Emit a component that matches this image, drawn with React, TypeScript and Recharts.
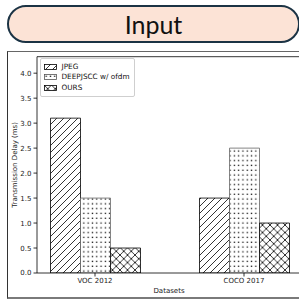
import React from "react";
import { BarChart, Bar, XAxis, YAxis, Legend, ReferenceLine } from "recharts";

const categories = ["VOC 2012", "COCO 2017"];
const jpegDelay = [3.1, 1.5];
const deepjsccDelay = [1.5, 2.5];
const oursDelay = [0.5, 1.0];
const yTicks = [0, 0.5, 1.0, 1.5, 2.0, 2.5, 3.0, 3.5, 4.0];
const seriesNames = ["JPEG", "DEEPJSCC w/ ofdm", "OURS"];
const seriesKeys = ["jpeg", "deep", "ours"];
const seriesPatterns = ["diag", "dots", "cross"];
const Y_MAX = 4.33;

const data = categories.map((c, i) => ({
  name: c,
  jpeg: jpegDelay[i],
  deep: deepjsccDelay[i],
  ours: oursDelay[i],
}));

const FONT = "'DejaVu Sans', sans-serif";

const PatternDefs = ({ p }: { p: string }) => (
  <defs>
    <pattern id={`${p}diag`} patternUnits="userSpaceOnUse" width={7} height={7}>
      <rect width={7} height={7} fill="#fff" />
      <path d="M-1,1 L1,-1 M0,7 L7,0 M6,8 L8,6" stroke="#000" strokeWidth={0.8} />
    </pattern>
    <pattern id={`${p}dots`} patternUnits="userSpaceOnUse" width={4.3} height={4.8}>
      <rect width={4.3} height={4.8} fill="#fff" />
      <rect x={1.5} y={1.6} width={1.3} height={1.3} fill="#111" />
    </pattern>
    <pattern id={`${p}cross`} patternUnits="userSpaceOnUse" width={7.5} height={7.5}>
      <rect width={7.5} height={7.5} fill="#fff" />
      <path d="M0,0 L7.5,7.5 M7.5,0 L0,7.5" stroke="#000" strokeWidth={0.8} />
    </pattern>
  </defs>
);

const LegendBox = () => (
  <div
    style={{
      border: "1px solid #cfcfcf",
      borderRadius: 2,
      background: "#fff",
      width: 95,
      padding: "2px 0 2px 3px",
      boxSizing: "border-box",
      fontFamily: FONT,
      fontSize: 7.3,
      color: "#111",
    }}
  >
    <svg width={0} height={0} style={{ position: "absolute" }}>
      <PatternDefs p="lg" />
    </svg>
    {seriesNames.map((n, i) => (
      <div key={n} style={{ display: "flex", alignItems: "center", height: 10.8 }}>
        <svg width={13} height={6} style={{ marginRight: 5, flex: "none" }}>
          <rect
            x={0.5}
            y={0.5}
            width={12}
            height={5}
            fill={`url(#lg${seriesPatterns[i]})`}
            stroke={i === 1 ? "#555" : "#000"}
            strokeWidth={0.8}
          />
        </svg>
        <span style={{ whiteSpace: "nowrap", lineHeight: "8px" }}>{n}</span>
      </div>
    ))}
  </div>
);

export default function App() {
  return (
    <div
      style={{
        position: "absolute",
        left: 0,
        top: 0,
        width: 299,
        height: 302,
        overflow: "hidden",
        background: "#fff",
      }}
    >
      <div
        style={{
          position: "absolute",
          left: 7,
          top: 5,
          width: 293,
          height: 38,
          boxSizing: "border-box",
          border: "2px solid #1b3344",
          borderRadius: 19,
          background: "#fce3d6",
          display: "flex",
          alignItems: "center",
          justifyContent: "center",
          fontFamily: "Lato, 'Open Sans', sans-serif",
          fontSize: 25,
          color: "#111",
        }}
      >
        Input
      </div>
      <div
        style={{
          position: "absolute",
          left: 7,
          top: 51,
          width: 300,
          height: 248,
          boxSizing: "border-box",
          borderLeft: "1px solid #333",
          borderTop: "1px solid #666",
          borderBottom: "2px solid #7a7a7a",
        }}
      />
      <div style={{ position: "absolute", left: 0, top: 0 }}>
        <BarChart
          width={310}
          height={302}
          data={data}
          margin={{ top: 56.7, right: 9, bottom: 0, left: 0 }}
          barSize={30}
          barGap={0}
        >
          <PatternDefs p="c" />
          <XAxis
            dataKey="name"
            height={29}
            padding={{ left: -16.5, right: -17.5 }}
            interval={0}
            tickSize={3.5}
            tickMargin={1.5}
            axisLine={{ stroke: "#000", strokeWidth: 0.8 }}
            tickLine={{ stroke: "#000", strokeWidth: 0.8 }}
            tick={{ fontSize: 7, fill: "#222", fontFamily: FONT }}
            label={(props: any) => {
              const vb = props.viewBox;
              return (
                <text
                  x={vb.x + vb.width / 2}
                  y={291}
                  textAnchor="middle"
                  dominantBaseline="central"
                  fontSize={7}
                  fill="#222"
                  fontFamily={FONT}
                >
                  Datasets
                </text>
              );
            }}
          />
          <YAxis
            width={37}
            domain={[0, Y_MAX]}
            ticks={yTicks}
            allowDataOverflow
            tickFormatter={(v: number) => v.toFixed(1)}
            tickSize={3.5}
            tickMargin={2}
            axisLine={{ stroke: "#000", strokeWidth: 0.8 }}
            tickLine={{ stroke: "#000", strokeWidth: 0.8 }}
            tick={{ fontSize: 7, fill: "#222", fontFamily: FONT }}
            label={(props: any) => {
              const vb = props.viewBox;
              const cx = vb.x + 15;
              const cy = vb.y + vb.height / 2;
              return (
                <text
                  x={cx}
                  y={cy}
                  transform={`rotate(-90 ${cx} ${cy})`}
                  textAnchor="middle"
                  dominantBaseline="central"
                  fontSize={7}
                  fill="#222"
                  fontFamily={FONT}
                >
                  Transmission Delay (ms)
                </text>
              );
            }}
          />
          <ReferenceLine y={Y_MAX} stroke="#000" strokeWidth={0.8} ifOverflow="extendDomain" />
          {seriesKeys.map((k, i) => (
            <Bar
              key={k}
              dataKey={k}
              name={seriesNames[i]}
              fill={`url(#c${seriesPatterns[i]})`}
              stroke={i === 1 ? "#666" : "#000"}
              strokeWidth={0.8}
              isAnimationActive={false}
            />
          ))}
          <Legend
            layout="horizontal"
            verticalAlign="middle"
            align="center"
            content={() => <LegendBox />}
            wrapperStyle={{ position: "absolute", left: 39.5, top: 58.3, width: 95, height: "auto" }}
          />
        </BarChart>
      </div>
    </div>
  );
}
